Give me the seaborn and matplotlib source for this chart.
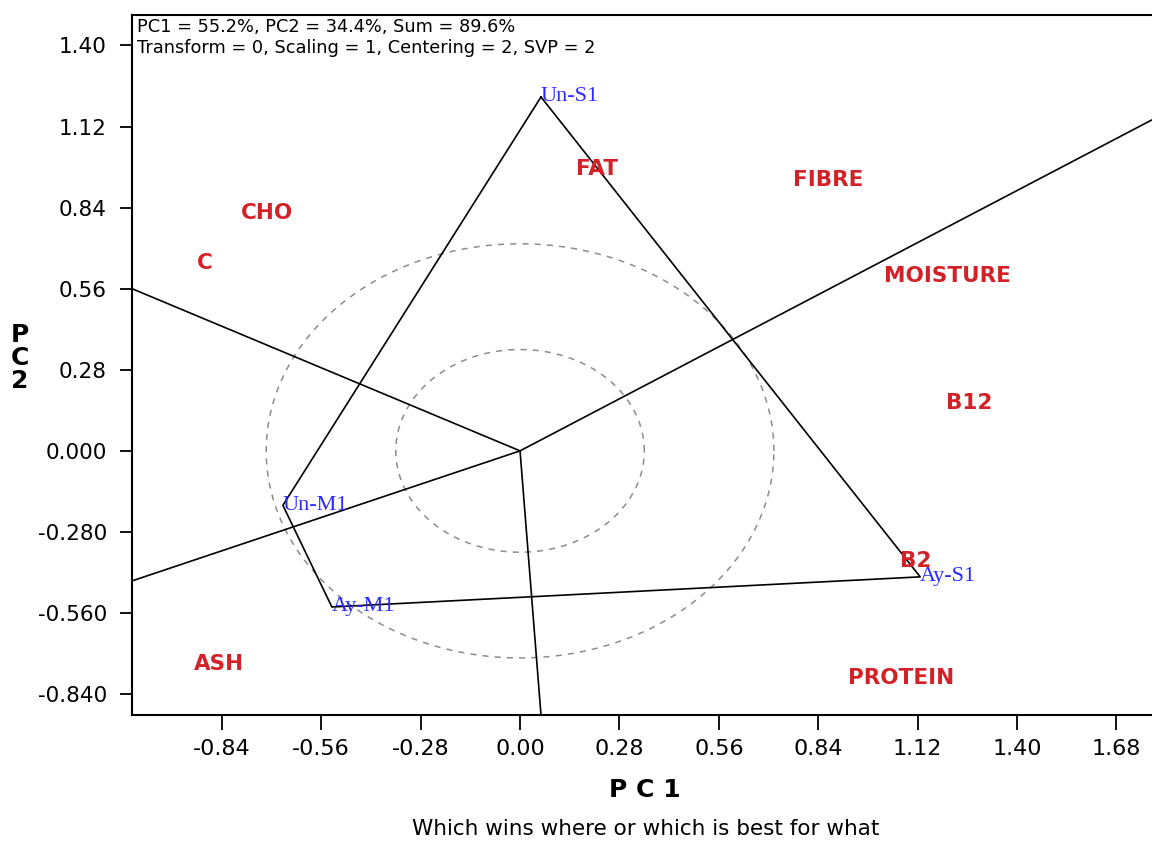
import matplotlib
matplotlib.use("Agg")
import matplotlib.pyplot as plt
import seaborn as sns
import numpy as np
import pandas as pd

# ---- data ----
genotypes = ["Un-S1", "Ay-S1", "Ay-M1", "Un-M1"]
geno_x = [0.059, 1.127, -0.530, -0.668]
geno_y = [1.222, -0.435, -0.539, -0.188]

traits = ["FAT", "FIBRE", "CHO", "C", "MOISTURE", "B12", "B2", "PROTEIN", "ASH"]
trait_x = [0.217, 0.868, -0.713, -0.887, 1.203, 1.265, 1.115, 1.073, -0.848]
trait_y = [0.974, 0.936, 0.822, 0.649, 0.604, 0.166, -0.380, -0.784, -0.736]

# ray end points (where the sector lines leave the plot)
ray_x = [-1.093, 1.780, -1.093, 0.059]
ray_y = [0.560, 1.143, -0.449, -0.912]

circle_radii = [0.35, 0.715]

xticks = [-0.84, -0.56, -0.28, 0.00, 0.28, 0.56, 0.84, 1.12, 1.40, 1.68]
xticklabels = ["-0.84", "-0.56", "-0.28", "0.00", "0.28", "0.56", "0.84", "1.12", "1.40", "1.68"]
yticks = [1.40, 1.12, 0.84, 0.56, 0.28, 0.0, -0.28, -0.56, -0.84]
yticklabels = ["1.40", "1.12", "0.84", "0.56", "0.28", "0.000", "-0.280", "-0.560", "-0.840"]

header = ["PC1 = 55.2%, PC2 = 34.4%, Sum = 89.6%",
          "Transform = 0, Scaling = 1, Centering = 2, SVP = 2"]

# ---- plot ----
sns.set_style("white")
plt.rcParams['font.family'] = ['DejaVu Sans']
plt.rcParams['text.color'] = 'black'
plt.rcParams['axes.labelcolor'] = 'black'
plt.rcParams['xtick.color'] = 'black'
plt.rcParams['ytick.color'] = 'black'

fig = plt.figure(figsize=(11.52, 8.41), dpi=100)
ax = fig.add_axes([132/1152, 1 - 715/841, 1 - 132/1152, (715 - 15)/841])
ax.set_xlim(-1.093, 1.780)
ax.set_ylim(-0.912, 1.505)

# circles
t = np.linspace(0, 2*np.pi, 400)
for r in circle_radii:
    ax.plot(r*np.cos(t), r*np.sin(t), ls=(0, (4, 4)), color="#8c8c8c", lw=1.1, zorder=1)

# polygon
poly = pd.DataFrame({"x": geno_x + [geno_x[0]], "y": geno_y + [geno_y[0]]})
sns.lineplot(data=poly, x="x", y="y", sort=False, color="black", lw=1.2,
             estimator=None, ax=ax, zorder=2)

# rays
for rx, ry in zip(ray_x, ray_y):
    ax.plot([0, rx], [0, ry], color="black", lw=1.2, zorder=2)

# genotype labels
for g, x, y in zip(genotypes, geno_x, geno_y):
    ax.text(x, y, g, color="#2a2aff", fontsize=16, family="Liberation Serif",
            ha="left", va="center", zorder=3)

# trait labels
for tr, x, y in zip(traits, trait_x, trait_y):
    ax.text(x, y, tr, color="#d42027", fontsize=15.5, fontweight="bold",
            ha="center", va="center", zorder=3)

# header
ax.text(0.005, 0.995, header[0] + "\n" + header[1], transform=ax.transAxes,
        ha="left", va="top", fontsize=12.8, linespacing=1.15, color="black")

ax.set_xticks(xticks)
ax.set_xticklabels(xticklabels)
ax.set_yticks(yticks)
ax.set_yticklabels(yticklabels)
ax.tick_params(axis="x", direction="out", length=11, width=1.3, pad=6,
               labelsize=16, colors="black", bottom=True)
ax.tick_params(axis="y", direction="out", length=9, width=1.3, pad=9,
               labelsize=15.5, colors="black", left=True)
ax.set_xlabel("")
ax.set_ylabel("")

for s in ["left", "top", "bottom"]:
    ax.spines[s].set_visible(True)
    ax.spines[s].set_color("black")
    ax.spines[s].set_linewidth(1.5)
ax.spines["right"].set_visible(False)

fig.text(645/1152, 1 - 790/841, "P C 1", ha="center", va="center",
         fontsize=18, fontweight="bold", color="black")
fig.text(20/1152, 1 - 358/841, "P\nC\n2", ha="center", va="center",
         fontsize=18, fontweight="bold", linespacing=0.95, color="black")
fig.text(646/1152, 1 - 829/841, "Which wins where or which is best for what",
         ha="center", va="center", fontsize=15.5, color="black")

fig.savefig("out.png", dpi=100)
